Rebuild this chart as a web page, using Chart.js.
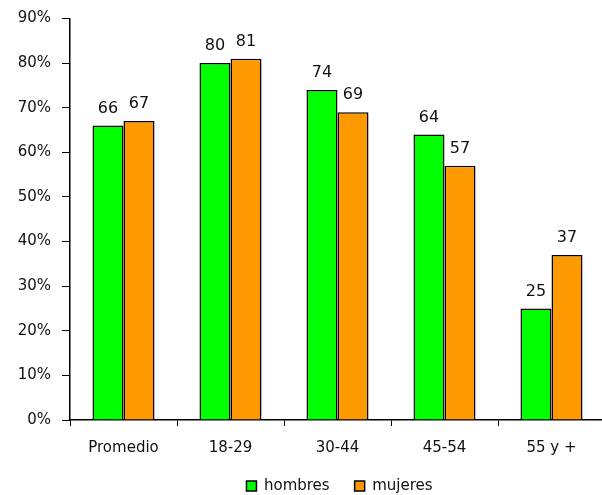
<!DOCTYPE html>
<html lang="es">
<head>
    <meta charset="UTF-8">
    <title>Hombres y mujeres por edad</title>
    <script src="https://cdn.jsdelivr.net/npm/chart.js"></script>
    <style>
        body {
            margin: 0;
            background: #fff;
            overflow: hidden;
        }
        #wrap {
            position: relative;
            width: 608px;
            height: 495px;
        }
    </style>
</head>
<body>
    <div id="wrap">
        <canvas id="grafico"></canvas>
    </div>

    <script>
        const categorias = ['Promedio', '18-29', '30-44', '45-54', '55 y +'];
        const hombres = [66, 80, 74, 64, 25];
        const mujeres = [67, 81, 69, 57, 37];

        const fuente = 'DejaVu Sans';
        const altoEjeX = 47;     // alto reservado a las etiquetas del eje x
        const altoLeyenda = 28;  // 495 - 420 - 47
        const leyendaY = 486;    // centro de la leyenda

        // etiquetas de valor encima de cada barra
        const etiquetas = {
            id: 'etiquetas',
            afterDatasetsDraw(chart) {
                const ctx = chart.ctx;
                ctx.save();
                ctx.font = '16px "' + fuente + '"';
                ctx.fillStyle = '#111';
                ctx.textAlign = 'center';
                ctx.textBaseline = 'bottom';
                chart.data.datasets.forEach((ds, i) => {
                    chart.getDatasetMeta(i).data.forEach((bar, j) => {
                        ctx.fillText(ds.data[j], bar.x, bar.y - 9);
                    });
                });
                ctx.restore();
            }
        };

        // la leyenda necesita mucho espacio entre items, pero poco alto;
        // ademas en el original esta corrida a la derecha
        const ajustarLeyenda = {
            id: 'ajustarLeyenda',
            beforeLayout(chart) {
                const lg = chart.legend;
                if (lg && !lg._fitOriginal) {
                    lg._fitOriginal = lg.fit;
                    lg.fit = function() {
                        this._fitOriginal();
                        this.height = altoLeyenda;
                    };
                }
            },
            afterLayout(chart) {
                const lg = chart.legend;
                const p = lg.options.labels.padding;
                lg.top = leyendaY - p - 7.5;
                lg.bottom = chart.height;
                lg.height = lg.bottom - lg.top;
                lg.left += 37;
                lg.right += 37;
            }
        };

        new Chart(document.getElementById('grafico'), {
            type: 'bar',
            data: {
                labels: categorias,
                datasets: [
                    {
                        label: 'hombres',
                        data: hombres,
                        backgroundColor: '#00ff00',
                        borderColor: '#000',
                        borderWidth: 1.5
                    },
                    {
                        label: 'mujeres',
                        data: mujeres,
                        backgroundColor: '#ff9900',
                        borderColor: '#000',
                        borderWidth: 1.5
                    }
                ]
            },
            options: {
                responsive: true,
                maintainAspectRatio: false,
                animation: false,
                layout: { padding: { top: 17, right: 3, left: 0, bottom: 0 } },
                datasets: {
                    bar: { categoryPercentage: 0.58, barPercentage: 1 }
                },
                scales: {
                    y: {
                        min: 0,
                        max: 90,
                        ticks: {
                            stepSize: 10,
                            callback: v => v + '%',
                            color: '#111',
                            font: { family: fuente, size: 15, lineHeight: 1 },
                            padding: 11
                        },
                        grid: {
                            drawOnChartArea: false,
                            color: '#000',
                            tickLength: 8
                        },
                        border: { color: '#000', width: 1.5 },
                        afterFit(scale) { scale.width = 70; }
                    },
                    x: {
                        ticks: {
                            color: '#111',
                            font: { family: fuente, size: 15 },
                            padding: 13
                        },
                        grid: {
                            drawOnChartArea: false,
                            color: '#000',
                            tickLength: 6
                        },
                        border: { color: '#000', width: 1.5 },
                        afterFit(scale) { scale.height = altoEjeX; }
                    }
                },
                plugins: {
                    legend: {
                        position: 'bottom',
                        labels: {
                            boxWidth: 10,
                            boxHeight: 10,
                            color: '#111',
                            font: { family: fuente, size: 15 },
                            padding: 25
                        }
                    },
                    tooltip: { enabled: false }
                }
            },
            plugins: [etiquetas, ajustarLeyenda]
        });
    </script>
</body>
</html>
